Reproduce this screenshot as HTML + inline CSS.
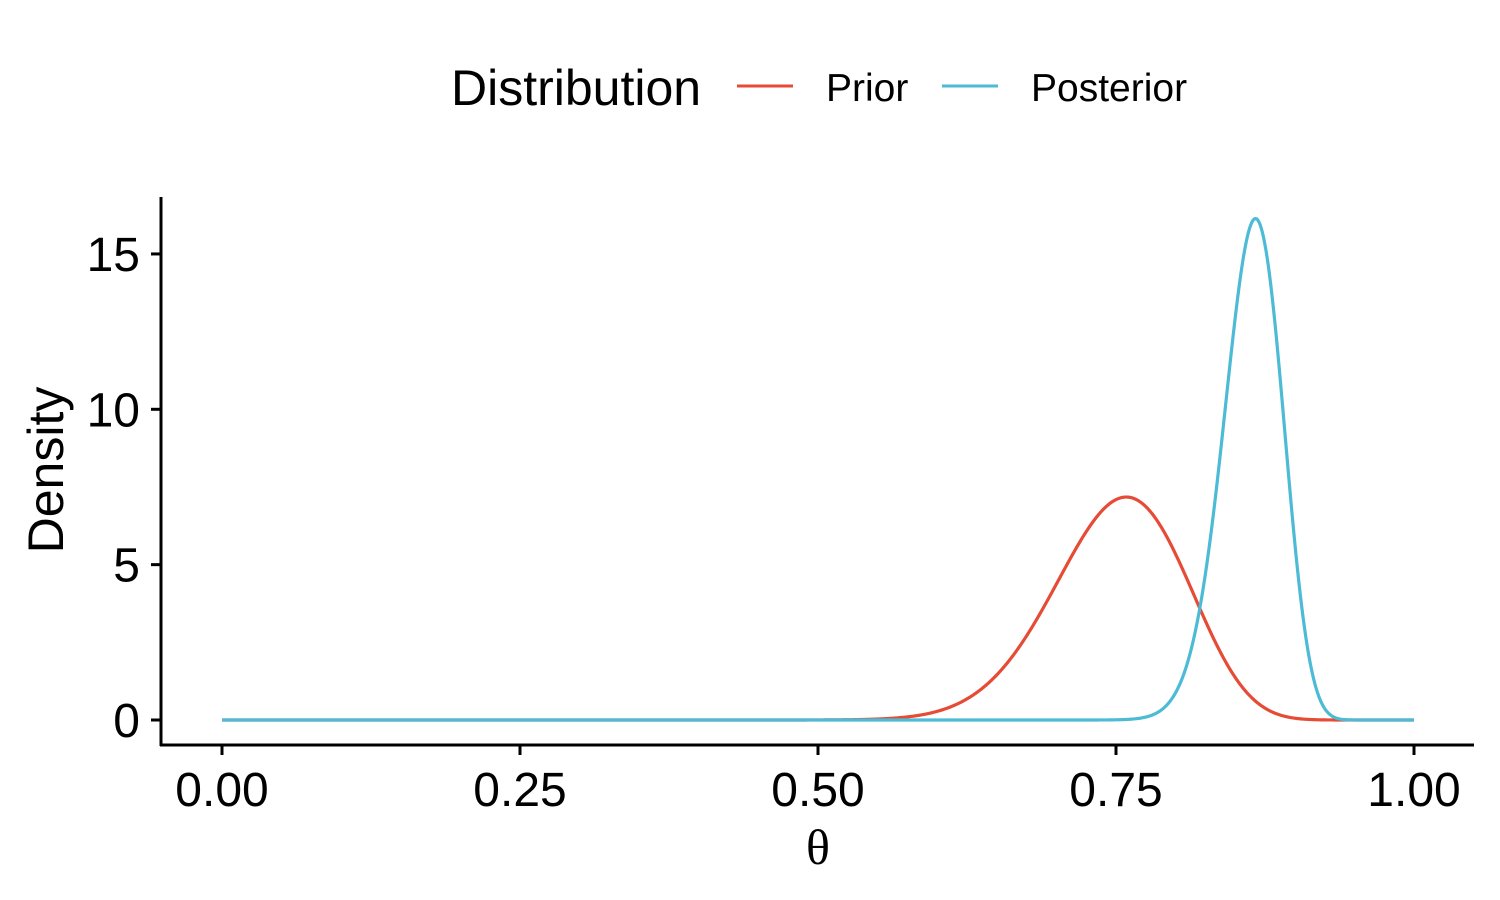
<!DOCTYPE html>
<html><head><meta charset="utf-8"><style>
html,body{margin:0;padding:0;background:#fff;}
svg{display:block;font-family:"Liberation Sans",Arial,sans-serif;}
</style></head><body>
<svg id="s" width="1500" height="900" viewBox="0 0 1500 900">
<rect width="1500" height="900" fill="#fff"/>
<text x="451" y="105" font-size="50">Distribution</text>
<line x1="737" y1="86" x2="793" y2="86" stroke="#E64B35" stroke-width="3"/>
<text x="826" y="101" font-size="39">Prior</text>
<line x1="942" y1="86" x2="998" y2="86" stroke="#4DBBD5" stroke-width="3"/>
<text x="1031" y="101" font-size="39">Posterior</text>
<line x1="161" y1="197" x2="161" y2="746" stroke="#000" stroke-width="3"/>
<line x1="160" y1="745" x2="1474" y2="745" stroke="#000" stroke-width="3"/>
<g id="ticks" stroke="#000" stroke-width="3"></g>
<g font-size="48" text-anchor="end" id="yl"></g>
<g font-size="48" text-anchor="middle" id="xl"></g>
<text transform="translate(63,470) rotate(-90)" font-size="50" text-anchor="middle">Density</text>
<text x="818" y="864" font-size="50" text-anchor="middle" font-family="Liberation Serif,serif">θ</text>
<path id="p1" fill="none" stroke="#E64B35" stroke-width="3.2"/>
<path id="p2" fill="none" stroke="#4DBBD5" stroke-width="3.2"/>
</svg>
<script>
var X=function(x){return 222+1192*x},Y=function(y){return 720-31.07*y};
var t=document.getElementById('ticks'),yl=document.getElementById('yl'),xl=document.getElementById('xl'),ns='http://www.w3.org/2000/svg';
[0,5,10,15].forEach(function(v){var l=document.createElementNS(ns,'line');l.setAttribute('x1',151);l.setAttribute('x2',161);l.setAttribute('y1',Y(v));l.setAttribute('y2',Y(v));t.appendChild(l);
var tx=document.createElementNS(ns,'text');tx.setAttribute('x',140);tx.setAttribute('y',Y(v)+17);tx.textContent=v;yl.appendChild(tx);});
['0.00','0.25','0.50','0.75','1.00'].forEach(function(s){var v=parseFloat(s);var l=document.createElementNS(ns,'line');l.setAttribute('x1',X(v));l.setAttribute('x2',X(v));l.setAttribute('y1',745);l.setAttribute('y2',755);t.appendChild(l);
var tx=document.createElementNS(ns,'text');tx.setAttribute('x',X(v));tx.setAttribute('y',806);tx.textContent=s;xl.appendChild(tx);});
function curve(a,b){var N=1000,v=[],s=0;for(var i=0;i<=N;i++){var x=i/N;var d=(x<=0||x>=1)?0:Math.exp((a-1)*Math.log(x)+(b-1)*Math.log(1-x));v.push(d);s+=d;}
s/=N;var p='';for(var i=0;i<=N;i++){p+=(i?'L':'M')+X(i/N).toFixed(2)+' '+Y(v[i]/s).toFixed(2);}return p;}
document.getElementById('p1').setAttribute('d',curve(45,15));
document.getElementById('p2').setAttribute('d',curve(164,26));
</script>
</body></html>
